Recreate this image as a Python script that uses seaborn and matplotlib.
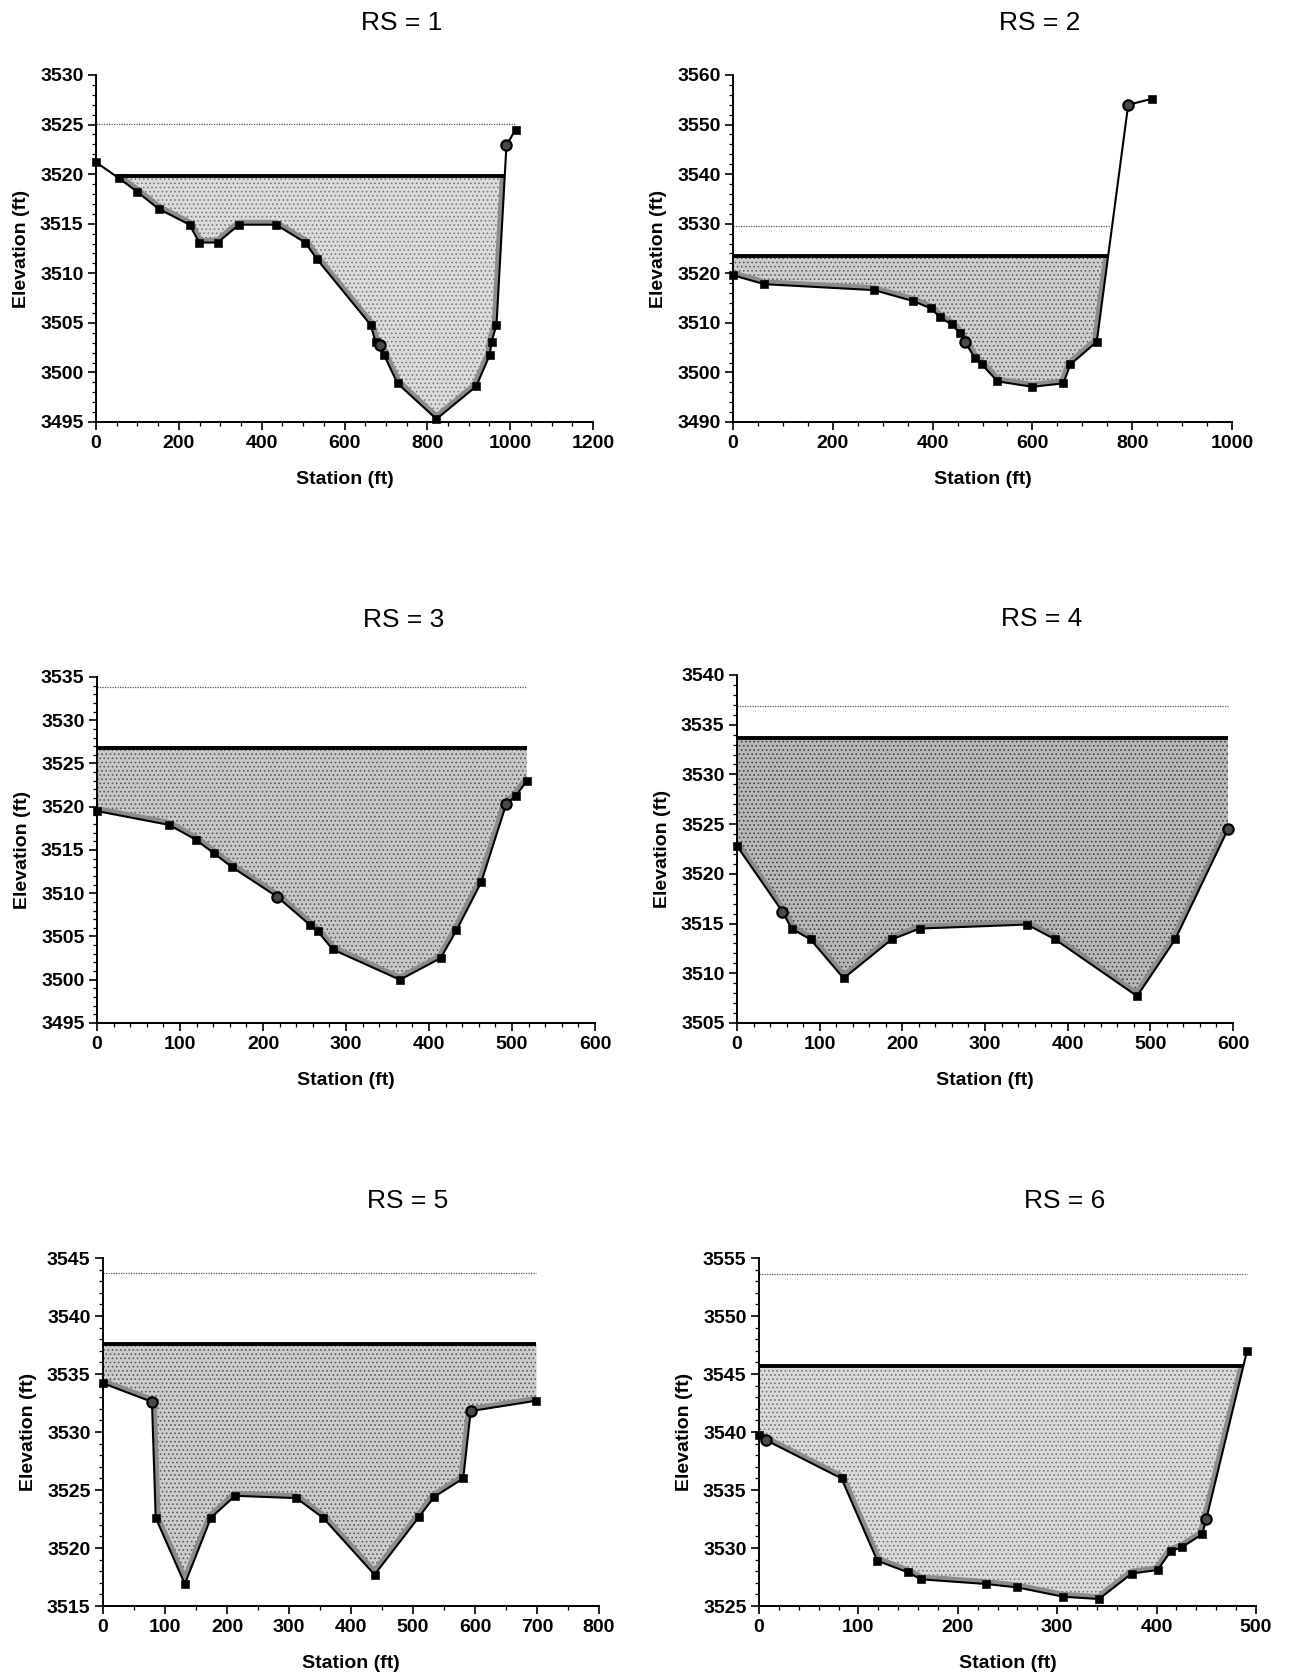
import numpy as np
import pandas as pd
import matplotlib
matplotlib.use("Agg")
import matplotlib.pyplot as plt
import seaborn as sns
from matplotlib.ticker import MultipleLocator

# ---------------- data ----------------
titles = ["RS = 1", "RS = 2", "RS = 3", "RS = 4", "RS = 5", "RS = 6"]

sta_rs1 = [0, 55, 100, 151, 226, 249, 294, 345, 435, 505, 534, 663, 675, 695, 728, 822, 918, 951, 955, 967, 1013]
elev_rs1 = [3521.2, 3519.6, 3518.2, 3516.5, 3514.9, 3513.1, 3513.1, 3514.9, 3514.9, 3513.1, 3511.4,
            3504.8, 3503.1, 3501.8, 3498.9, 3495.3, 3498.6, 3501.8, 3503.1, 3504.8, 3524.5]
bank_sta_rs1 = [685, 991]
bank_elev_rs1 = [3502.8, 3522.9]
ws_rs1 = 3519.8
eg_rs1 = 3525.1

sta_rs2 = [0, 63, 283, 361, 397, 415, 438, 455, 484, 499, 530, 600, 662, 676, 729, 840]
elev_rs2 = [3519.6, 3517.8, 3516.6, 3514.4, 3512.9, 3511.1, 3509.7, 3507.9, 3503.0, 3501.6,
            3498.2, 3497.1, 3497.8, 3501.6, 3506.2, 3555.2]
bank_sta_rs2 = [465, 792]
bank_elev_rs2 = [3506.2, 3554.0]
ws_rs2 = 3523.5
eg_rs2 = 3529.6

sta_rs3 = [0, 87, 119, 141, 163, 257, 266, 284, 365, 414, 433, 463, 505, 518]
elev_rs3 = [3519.5, 3517.9, 3516.2, 3514.6, 3513.0, 3506.3, 3505.6, 3503.5, 3500.0, 3502.5,
            3505.7, 3511.3, 3521.3, 3523.0]
bank_sta_rs3 = [217, 493]
bank_elev_rs3 = [3509.6, 3520.3]
ws_rs3 = 3526.8
eg_rs3 = 3533.8

sta_rs4 = [0, 66, 89, 129, 187, 221, 351, 385, 484, 530]
elev_rs4 = [3522.8, 3514.5, 3513.4, 3509.5, 3513.4, 3514.5, 3514.9, 3513.4, 3507.7, 3513.4]
bank_sta_rs4 = [55, 594]
bank_elev_rs4 = [3516.2, 3524.5]
ws_rs4 = 3533.7
eg_rs4 = 3536.9

sta_rs5 = [0, 85, 132, 174, 213, 312, 355, 438, 510, 534, 581, 699]
elev_rs5 = [3534.2, 3522.6, 3516.9, 3522.6, 3524.5, 3524.3, 3522.6, 3517.7, 3522.7, 3524.4,
            3526.0, 3532.7]
bank_sta_rs5 = [79, 593]
bank_elev_rs5 = [3532.6, 3531.8]
ws_rs5 = 3537.6
eg_rs5 = 3543.75

sta_rs6 = [0, 83, 119, 150, 163, 228, 260, 306, 342, 375, 401, 414, 426, 446, 491]
elev_rs6 = [3539.7, 3536.0, 3528.9, 3527.9, 3527.3, 3526.9, 3526.6, 3525.8, 3525.6, 3527.8,
            3528.1, 3529.7, 3530.1, 3531.2, 3547.0]
bank_sta_rs6 = [7, 450]
bank_elev_rs6 = [3539.3, 3532.5]
ws_rs6 = 3545.7
eg_rs6 = 3553.6

x_limits = [(0, 1200), (0, 1000), (0, 600), (0, 600), (0, 800), (0, 500)]
y_limits = [(3495, 3530), (3490, 3560), (3495, 3535), (3505, 3540), (3515, 3545), (3525, 3555)]
x_major = [200, 200, 100, 100, 100, 100]
x_minor = [50, 50, 20, 20, 50, 20]
y_major = [5, 10, 5, 5, 5, 5]
y_minor = [1, 2, 1, 1, 1, 1]

# ---------------- style ----------------
sns.set_theme(style="ticks")
plt.rcParams["font.family"] = ["Liberation Sans", "DejaVu Sans"]
plt.rcParams["hatch.linewidth"] = 0.7

fill_face = ["#dcdcdc", "#cfcfcf", "#c8c8c8", "#b9b9b9", "#cdcdcd", "#dadada"]
fill_dots = ["#777777", "#5a5a5a", "#555555", "#3c3c3c", "#555555", "#707070"]

W, H = 1289, 1676
fig = plt.figure(figsize=(W / 100, H / 100), dpi=100)

# axes boxes in pixels: left, right, top, bottom
boxes = [(96, 593, 75, 422), (733, 1232, 75, 422),
         (97, 595, 677, 1023), (737, 1233, 675, 1023),
         (103, 599, 1258, 1606), (759, 1256, 1258, 1606)]
title_y = [1.15, 1.15, 1.165, 1.16, 1.165, 1.165]


def crossings(x, z, level):
    """Return first/last station where the ground is below the level."""
    x = np.asarray(x, float)
    z = np.asarray(z, float)
    pts = []
    for i in range(len(x)):
        if z[i] <= level:
            pts.append(x[i])
        if i < len(x) - 1 and (z[i] - level) * (z[i + 1] - level) < 0:
            t = (level - z[i]) / (z[i + 1] - z[i])
            pts.append(x[i] + t * (x[i + 1] - x[i]))
    return min(pts), max(pts)


data = [
    (sta_rs1, elev_rs1, bank_sta_rs1, bank_elev_rs1, ws_rs1, eg_rs1),
    (sta_rs2, elev_rs2, bank_sta_rs2, bank_elev_rs2, ws_rs2, eg_rs2),
    (sta_rs3, elev_rs3, bank_sta_rs3, bank_elev_rs3, ws_rs3, eg_rs3),
    (sta_rs4, elev_rs4, bank_sta_rs4, bank_elev_rs4, ws_rs4, eg_rs4),
    (sta_rs5, elev_rs5, bank_sta_rs5, bank_elev_rs5, ws_rs5, eg_rs5),
    (sta_rs6, elev_rs6, bank_sta_rs6, bank_elev_rs6, ws_rs6, eg_rs6),
]

for k, (sta, elev, bsta, belev, ws, eg) in enumerate(data):
    l, r, t, b = boxes[k]
    ax = fig.add_axes([l / W, 1 - b / H, (r - l) / W, (b - t) / H])

    df = pd.DataFrame({"Station": list(sta) + list(bsta),
                       "Elevation": list(elev) + list(belev),
                       "kind": ["ground"] * len(sta) + ["bank"] * len(bsta)})
    df = df.sort_values("Station").reset_index(drop=True)
    x = df["Station"].to_numpy()
    z = df["Elevation"].to_numpy()

    # water fill (stippled grey)
    poly = ax.fill_between(x, z, ws, where=z <= ws, interpolate=True,
                           facecolor=fill_face[k], edgecolor=fill_dots[k], hatch="....",
                           linewidth=0, zorder=1)
    # darker grey band hugging the wetted ground and the water edges
    for p in poly.get_paths():
        band, = ax.plot(x, z, color="#8c8c8c", lw=7, zorder=1.5, solid_joinstyle="round")
        band.set_clip_path(p, transform=ax.transData)

    # energy grade line (dotted) and water surface (thick)
    e0, e1 = crossings(x, z, eg)
    ax.plot([e0, e1], [eg, eg], color="#555555", lw=0.9, ls=(0, (1, 1)), zorder=2)
    w0, w1 = crossings(x, z, ws)
    ax.plot([w0, w1], [ws, ws], color="black", lw=2.8, zorder=3, solid_capstyle="butt")

    # ground line with points
    sns.lineplot(data=df, x="Station", y="Elevation", sort=False, estimator=None,
                 color="black", lw=1.5, ax=ax, zorder=4)
    g = df[df["kind"] == "ground"]
    sns.scatterplot(data=g, x="Station", y="Elevation", marker="s", s=30,
                    color="black", edgecolor="black", ax=ax, zorder=5, clip_on=False)
    bk = df[df["kind"] == "bank"]
    sns.scatterplot(data=bk, x="Station", y="Elevation", marker="o", s=55,
                    color="#4a4a4a", edgecolor="black", linewidth=1.6, ax=ax,
                    zorder=6, clip_on=False)

    ax.set_xlim(*x_limits[k])
    ax.set_ylim(*y_limits[k])
    ax.xaxis.set_major_locator(MultipleLocator(x_major[k]))
    ax.xaxis.set_minor_locator(MultipleLocator(x_minor[k]))
    ax.yaxis.set_major_locator(MultipleLocator(y_major[k]))
    ax.yaxis.set_minor_locator(MultipleLocator(y_minor[k]))
    ax.tick_params(which="major", direction="out", length=6, width=1.2,
                   labelsize=14, pad=3, color="black", labelcolor="black")
    ax.tick_params(which="minor", direction="out", length=3, width=0.9, color="black")
    for lab in ax.get_xticklabels() + ax.get_yticklabels():
        lab.set_fontweight("bold")
    for s in ["top", "right"]:
        ax.spines[s].set_visible(False)
    for s in ["left", "bottom"]:
        ax.spines[s].set_color("black")
        ax.spines[s].set_linewidth(1.4)
    ax.set_facecolor("white")

    ax.set_xlabel("Station (ft)", fontsize=14, fontweight="bold", labelpad=14, color="black")
    ax.set_ylabel("Elevation (ft)", fontsize=14, fontweight="bold", labelpad=7, color="black")
    ax.text(0.615, title_y[k], titles[k], transform=ax.transAxes, ha="center", va="center",
            fontsize=19, color="black")

fig.savefig("out.png", dpi=100, facecolor="white")
